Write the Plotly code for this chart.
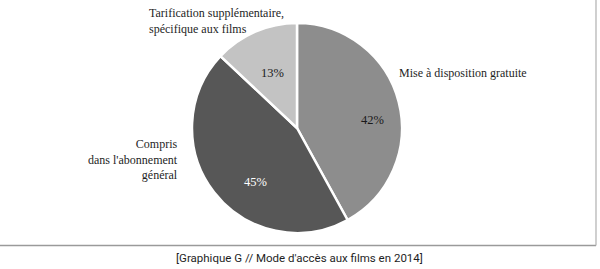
import plotly.graph_objects as go

W, H = 600, 269

categories = ["Mise à disposition gratuite", "Compris dans l'abonnement général",
              "Tarification supplémentaire, spécifique aux films"]
values = [42, 45, 13]
colors = ["#8d8d8d", "#575757", "#c3c3c3"]
caption = "[Graphique G // Mode d'accès aux films en 2014]"

# pie geometry in pixels
cx, cy, r = 297, 128, 105

fig = go.Figure(go.Pie(
    labels=categories, values=values, sort=False, direction="clockwise", rotation=0,
    marker=dict(colors=colors, line=dict(color="white", width=2.5)),
    textinfo="none", hoverinfo="skip", showlegend=False,
    domain=dict(x=[(cx - r) / W, (cx + r) / W], y=[(H - cy - r) / H, (H - cy + r) / H]),
))

def px(x):
    return x / W

def py(y):
    return 1 - y / H

serif = "Liberation Serif"
annotations = []
# percent labels
pct_pos = [(372, 120, "#1a1a1a"), (255, 182, "#ffffff"), (272, 73, "#1a1a1a")]
for v, (x, y, c) in zip(values, pct_pos):
    annotations.append(dict(x=px(x), y=py(y), text=f"{v}%", showarrow=False,
                            xref="paper", yref="paper", xanchor="center", yanchor="middle",
                            font=dict(family=serif, size=12.5, color=c)))
# category labels
cat_text = ["Mise à disposition gratuite", "Compris<br>dans l'abonnement<br>général",
            "Tarification supplémentaire,<br>spécifique aux films"]
cat_pos = [(397, 73, "left", "left"), (180, 159, "right", "right"), (147, 21, "left", "left")]
for t, (x, y, xa, al) in zip(cat_text, cat_pos):
    annotations.append(dict(x=px(x), y=py(y), text=t, showarrow=False, align=al,
                            xref="paper", yref="paper", xanchor=xa, yanchor="middle",
                            font=dict(family=serif, size=12, color="#1e1e1e")))
annotations.append(dict(x=px(299), y=py(258), text=caption, showarrow=False,
                        xref="paper", yref="paper", xanchor="center", yanchor="middle",
                        font=dict(family="Roboto", size=11.5, color="#1e1e1e")))

shapes = [
    dict(type="line", xref="paper", yref="paper", x0=0, x1=px(596), y0=py(245.5), y1=py(245.5),
         line=dict(color="#9a9a9a", width=1.5)),
    dict(type="line", xref="paper", yref="paper", x0=px(596), x1=px(596), y0=py(245.5), y1=1,
         line=dict(color="#b0b0b0", width=1.2)),
]

fig.update_layout(width=W, height=H, margin=dict(l=0, r=0, t=0, b=0),
                  paper_bgcolor="white", plot_bgcolor="white",
                  annotations=annotations, shapes=shapes)
fig.write_html("out.html")
